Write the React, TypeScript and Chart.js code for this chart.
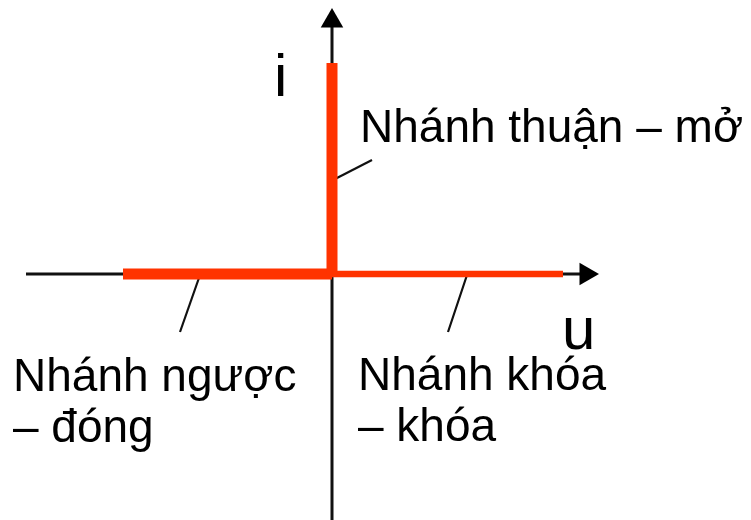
import React, { useEffect, useRef } from "react";
import { Chart, registerables } from "chart.js";

Chart.register(...registerables);

// Schematic data (units: 1 unit ≈ 1 px, origin at the crossing of the axes)
const reverseBranch = [{ x: -209, y: 0 }, { x: 0, y: 0 }];
const blockingBranch = [{ x: 0, y: 0 }, { x: 231, y: 0 }];
const forwardBranch = [{ x: 0, y: 0 }, { x: 0, y: 211 }];
const uAxis = [{ x: -306, y: 0 }, { x: 252, y: 0 }];
const iAxis = [{ x: 0, y: -250 }, { x: 0, y: 252 }];
const uArrow = [{ x: 254, y: 0 }];
const iArrow = [{ x: 0, y: 253 }];
const leaderForward = [{ x: 3, y: 95 }, { x: 40, y: 114 }];
const leaderReverse = [{ x: -132, y: -1 }, { x: -152, y: -58 }];
const leaderBlocking = [{ x: 135, y: -1 }, { x: 116, y: -58 }];

const axisLabels = [
  { text: "i", x: -58, y: 178 },
  { text: "u", x: 230, y: -75 },
];
const branchLabels = [
  { lines: ["Nhánh thuận – mở"], x: 28, y: 132 },
  { lines: ["Nhánh ngược", "– đóng"], x: -319, y: -117 },
  { lines: ["Nhánh khóa", "– khóa"], x: 26, y: -116 },
];

const RED = "#ff3300";
const BLACK = "#111111";

const textPlugin = {
  id: "labels",
  afterDatasetsDraw(chart: any) {
    const { ctx, scales } = chart;
    const xs = scales.x;
    const ys = scales.y;
    ctx.save();
    ctx.fillStyle = "#000";
    ctx.textBaseline = "alphabetic";
    ctx.textAlign = "left";
    ctx.font = '60px "Liberation Sans", Arial, sans-serif';
    axisLabels.forEach((l) => {
      ctx.fillText(l.text, xs.getPixelForValue(l.x), ys.getPixelForValue(l.y));
    });
    ctx.font = '46px "Liberation Sans", Arial, sans-serif';
    branchLabels.forEach((l) => {
      l.lines.forEach((line, i) => {
        ctx.fillText(line, xs.getPixelForValue(l.x), ys.getPixelForValue(l.y) + i * 51);
      });
    });
    ctx.restore();
  },
};

const line = (data: any, color: string, width: number, order: number) => ({
  data,
  showLine: true,
  borderColor: color,
  backgroundColor: color,
  borderWidth: width,
  pointRadius: 0,
  borderCapStyle: "butt",
  order,
});

export default function App() {
  const ref = useRef<HTMLCanvasElement>(null);
  useEffect(() => {
    if (!ref.current) return;
    const chart = new Chart(ref.current, {
      type: "scatter",
      data: {
        datasets: [
          line(forwardBranch, RED, 11, 1),
          line(reverseBranch, RED, 11, 1),
          line(blockingBranch, RED, 6.5, 1),
          line(uAxis, BLACK, 3, 3),
          line(iAxis, BLACK, 3, 3),
          line(leaderForward, BLACK, 2.2, 2),
          line(leaderReverse, BLACK, 2.2, 2),
          line(leaderBlocking, BLACK, 2.2, 2),
          {
            data: uArrow,
            pointStyle: "triangle",
            pointRadius: 13,
            rotation: 90,
            backgroundColor: "#000",
            borderColor: "#000",
            borderWidth: 0,
            order: 2,
          } as any,
          {
            data: iArrow,
            pointStyle: "triangle",
            pointRadius: 13,
            rotation: 0,
            backgroundColor: "#000",
            borderColor: "#000",
            borderWidth: 0,
            order: 2,
          } as any,
        ],
      },
      options: {
        responsive: false,
        animation: false,
        layout: { padding: 0, autoPadding: false },
        plugins: { legend: { display: false }, tooltip: { enabled: false } },
        scales: {
          x: { type: "linear", min: -332, max: 419, display: false },
          y: { type: "linear", min: -246, max: 274, display: false },
        },
      },
      plugins: [textPlugin],
    } as any);
    return () => chart.destroy();
  }, []);
  return (
    <div style={{ position: "fixed", left: 0, top: 0, width: 751, height: 520, background: "#fff" }}>
      <canvas ref={ref} width={751} height={520} style={{ display: "block" }} />
    </div>
  );
}
